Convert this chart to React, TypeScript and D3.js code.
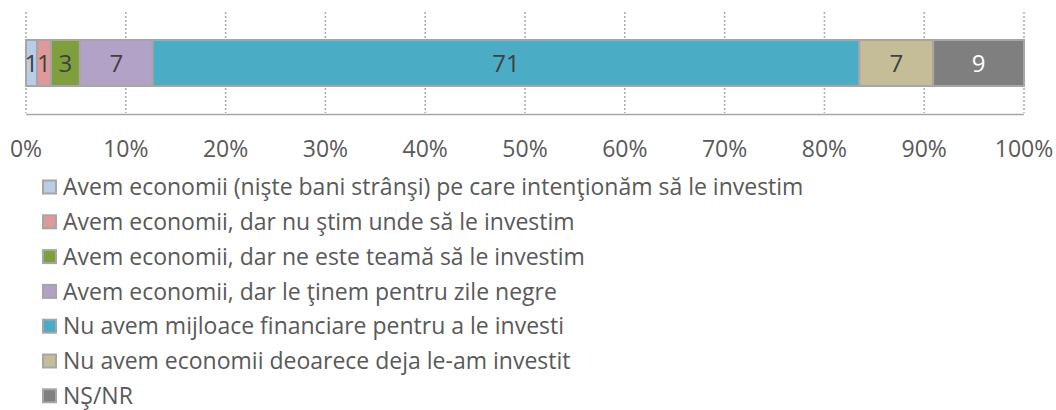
import { scaleLinear, format } from "d3";

const categories = [
  "Avem economii (nişte bani strânşi) pe care intenţionăm să le investim",
  "Avem economii, dar nu ştim unde să le investim",
  "Avem economii, dar ne este teamă să le investim",
  "Avem economii, dar le ţinem pentru zile negre",
  "Nu avem mijloace financiare pentru a le investi",
  "Nu avem economii deoarece deja le-am investit",
  "NŞ/NR",
];
const values = [1.1, 1.4, 2.9, 7.3, 70.8, 7.4, 9.1];
const colors = ["#B9CDE5", "#E0999A", "#7F9F3D", "#B3A2C7", "#4BACC6", "#C4BD97", "#7F7F7F"];
const labelColors = ["#404040", "#404040", "#404040", "#404040", "#404040", "#404040", "#FFFFFF"];
const ticks = [0, 10, 20, 30, 40, 50, 60, 70, 80, 90, 100];

const W = 1056;
const H = 410;
const font = "'Open Sans', sans-serif";

export default function App() {
  const x = scaleLinear().domain([0, 100]).range([26, 1024]);
  const barTop = 40;
  const barH = 46;
  const fmt = format(".0f");

  let acc = 0;
  const segs = values.map((v, i) => {
    const s = { x0: acc, x1: acc + v, v, i };
    acc += v;
    return s;
  });

  return (
    <>
      <style>{`body{margin:0}`}</style>
      <svg width={W} height={H} style={{ display: "block", fontFamily: font }}>
        <rect width={W} height={H} fill="#fff" />
        {/* grid */}
        {ticks.map((t) => (
          <line
            key={t}
            x1={x(t)}
            x2={x(t)}
            y1={12}
            y2={113}
            stroke="#ABABAB"
            strokeWidth={1.5}
            strokeDasharray="2 2"
          />
        ))}
        {/* axis line */}
        <line x1={x(0)} x2={x(100)} y1={114.5} y2={114.5} stroke="#A6A6A6" strokeWidth={1.5} />

        {/* bar segments */}
        {segs.map((s) => (
          <rect
            key={s.i}
            x={x(s.x0)}
            y={barTop}
            width={x(s.x1) - x(s.x0)}
            height={barH}
            fill={colors[s.i]}
            stroke="#A6A6A6"
            strokeWidth={2}
          />
        ))}
        {segs.map((s) => (
          <text
            key={s.i}
            x={(x(s.x0) + x(s.x1)) / 2}
            y={barTop + barH / 2}
            dy="0.36em"
            textAnchor="middle"
            fontSize={24}
            fill={labelColors[s.i]}
          >
            {fmt(s.v)}
          </text>
        ))}

        {/* tick labels */}
        {ticks.map((t) => (
          <text key={t} x={x(t)} y={148.5} dy="0.36em" textAnchor="middle" fontSize={23} fill="#595959">
            {t}%
          </text>
        ))}

        {/* legend */}
        {categories.map((c, i) => (
          <g key={c} transform={`translate(42,${187 + i * 34.8})`}>
            <rect x={1} y={-6.5} width={13} height={13} fill={colors[i]} stroke="#A6A6A6" strokeWidth={2} />
            <text x={21} y={0} dy="0.36em" fontSize={23} fill="#595959">
              {c}
            </text>
          </g>
        ))}
      </svg>
    </>
  );
}
